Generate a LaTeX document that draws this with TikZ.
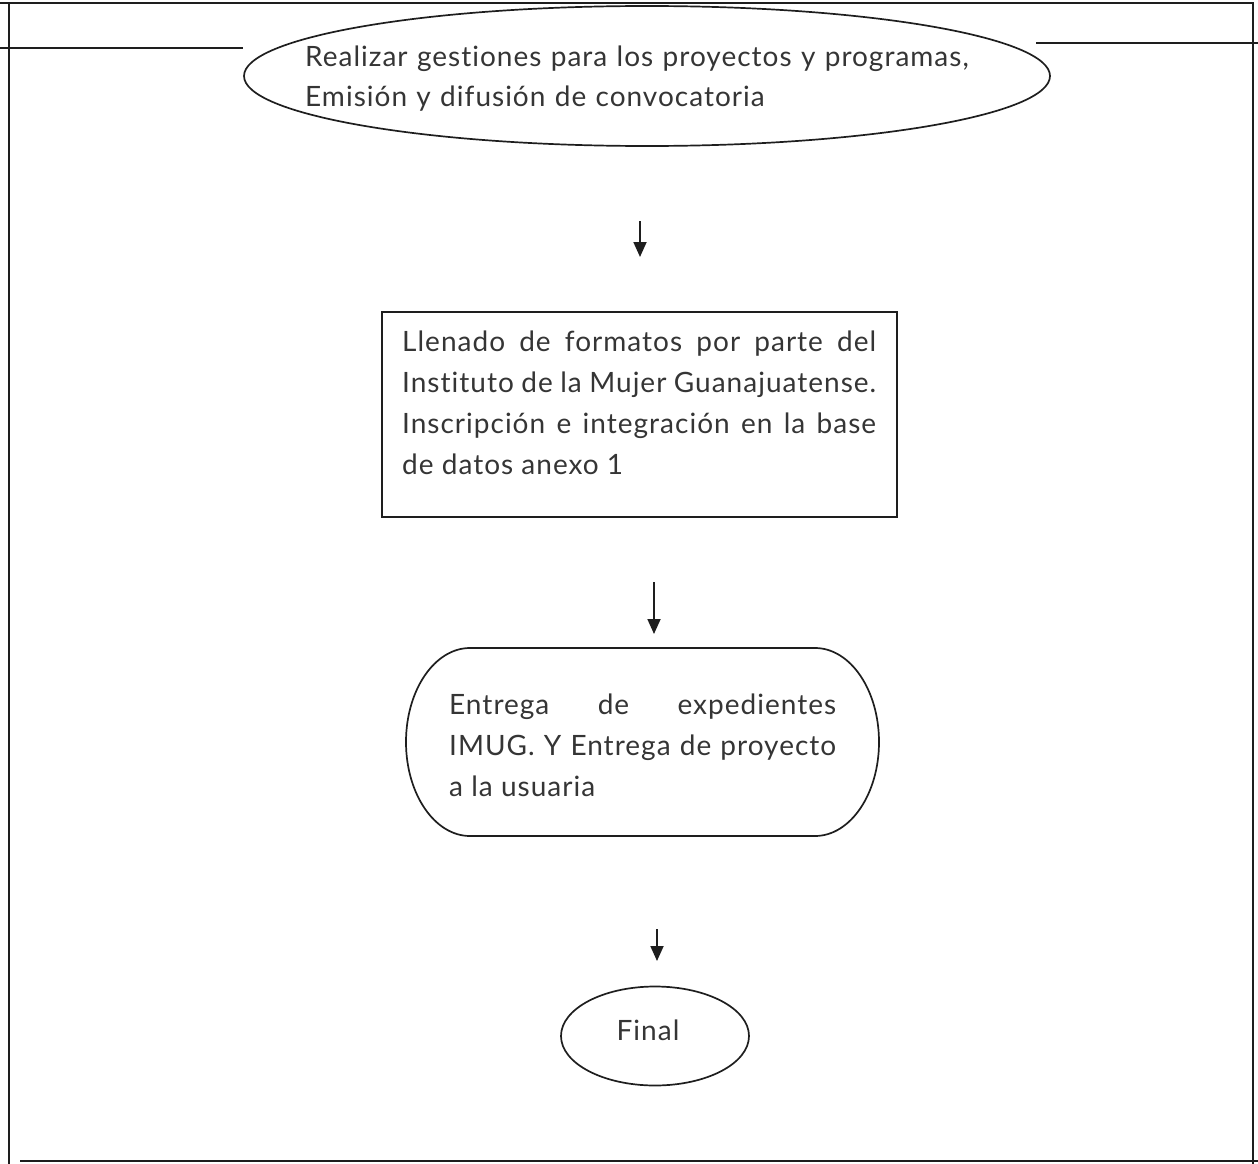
\documentclass[tikz,border=0pt]{standalone}
\usepackage{fontspec}
\setmainfont{Lato}[Ligatures={NoCommon,NoRare},LetterSpace=3.6]
\usetikzlibrary{shapes.geometric,arrows.meta}
\definecolor{ink}{HTML}{1E1E1E}
\definecolor{txt}{HTML}{353535}
\begin{document}
\begin{tikzpicture}[x=1pt,y=-1pt,
  frame/.style={draw=ink,line width=1.8pt},
  shapeline/.style={draw=ink,line width=1.7pt},
  label/.style={text=txt,font=\fontsize{28}{41}\selectfont,inner sep=0pt},
  flow/.style={ink,line width=1.8pt,-{Triangle[width=13pt,length=15pt]}}]
\useasboundingbox (0,0) rectangle (1258,1164);

% outer frame
\draw[frame] (0,3) -- (1253,3) -- (1253,1164);
\draw[frame] (9,3) -- (9,1164);
\draw[frame] (20,1161) -- (1258,1161);

% start ellipse with header rule behind it
\node[shapeline,ellipse,minimum width=806pt,minimum height=140pt,inner sep=0pt] (start) at (647,76) {};
\draw[frame] (0,48) -- (start.west |- 0,48);
\draw[frame] (1036,43) -- (1258,43);
\node[label,text width=700pt,align=left,anchor=north west] (starttxt) at (305,46)
  {Realizar gestiones para los proyectos y programas,\\[-1pt]Emisión y difusión de convocatoria};

% first arrow
\coordinate (a1s) at (640,221);
\coordinate (a1e) at (640,257);
\draw[flow] (a1s) -- (a1e);

% process box
\node[shapeline,rectangle,minimum width=515pt,minimum height=205pt,inner sep=0pt] (fill) at (639.5,414.5) {};
\node[label,text width=474pt,align=justify,anchor=north west] (filltxt) at (402,331)
  {Llenado de formatos por parte del\linebreak Instituto de la Mujer Guanajuatense.\linebreak Inscripción e integración en la base\linebreak de datos anexo 1};

% second arrow
\coordinate (a2s) at (654,582);
\coordinate (a2e) at (654,634);
\draw[flow] (a2s) -- (a2e);

% delivery terminator (y axis points down, so angles run clockwise on screen)
\draw[shapeline] (470,648) -- (815,648)
  arc[start angle=-90,end angle=90,x radius=64,y radius=94] -- (470,836)
  arc[start angle=90,end angle=270,x radius=64,y radius=94] -- cycle;
\node[minimum width=473pt,minimum height=188pt,inner sep=0pt] (deliver) at (642.5,742) {};
\node[label,text width=387pt,align=justify,anchor=north west] (delivertxt) at (449,694)
  {Entrega de expedientes\linebreak IMUG. Y Entrega de proyecto\linebreak a la usuaria};

% third arrow
\coordinate (a3s) at (657,929);
\coordinate (a3e) at (657,961);
\draw[flow] (a3s) -- (a3e);

% end ellipse
\node[shapeline,ellipse,minimum width=188pt,minimum height=99pt,inner sep=0pt] (final) at (655,1036) {};
\node[label] (finaltxt) at (648,1030) {Final};
\end{tikzpicture}
\end{document}
